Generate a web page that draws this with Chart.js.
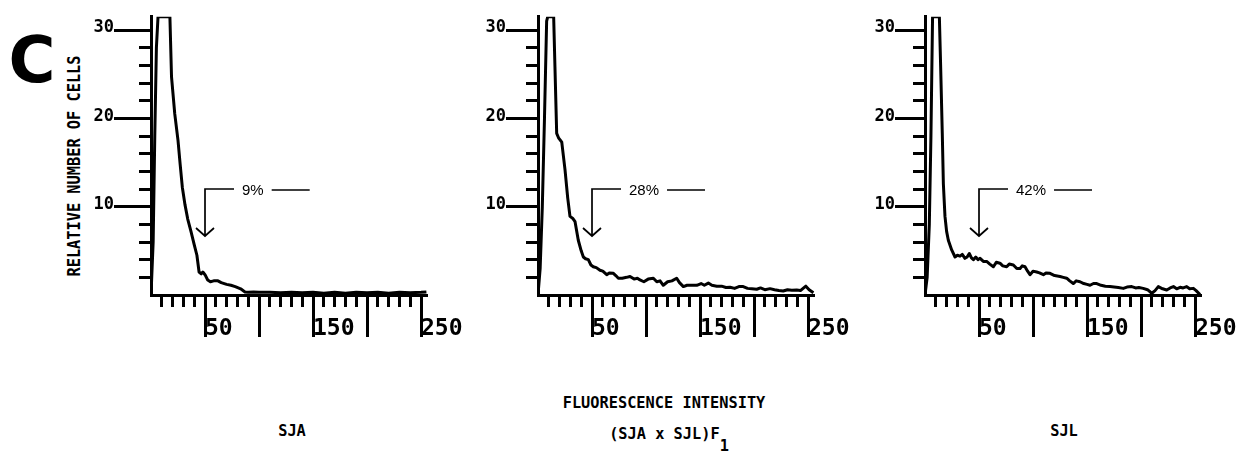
<!DOCTYPE html>
<html>
<head>
<meta charset="utf-8">
<script src="https://cdn.jsdelivr.net/npm/chart.js@4.4.1/dist/chart.umd.min.js"></script>
<style>
  html, body { margin: 0; padding: 0; background: #fff; overflow: hidden; }
  body { width: 1240px; height: 457px; position: relative; color: #000; }
  canvas { position: absolute; top: 0; }
  .lbl {
    position: absolute;
    font-family: "DejaVu Sans Mono", monospace;
    font-weight: bold;
    font-size: 15.3px;
    white-space: nowrap;
    transform: translate(-50%, -50%);
  }
  #letter {
    position: absolute; left: 32px; top: 60px;
    font-family: "DejaVu Sans", sans-serif; font-weight: bold; font-size: 64px;
    transform: translate(-50%, -50%);
  }
  #ytitle { left: 73.5px; top: 166px; transform: translate(-50%, -50%) rotate(-90deg) scaleY(1.15); }
  .sub { position: relative; top: 12px; }
</style>
</head>
<body>
<div id="letter">C</div>
<div class="lbl" id="ytitle">RELATIVE NUMBER OF CELLS</div>

<canvas id="sja" width="466" height="345" style="left:0px"></canvas>
<canvas id="hybrid" width="466" height="345" style="left:387px"></canvas>
<canvas id="sjl" width="466" height="345" style="left:774px"></canvas>

<div class="lbl" style="left:664px; top:403px">FLUORESCENCE INTENSITY</div>
<div class="lbl" style="left:292px; top:431px">SJA</div>
<div class="lbl" style="left:669px; top:434px">(SJA x SJL)F<span class="sub">1</span></div>
<div class="lbl" style="left:1064px; top:431px">SJL</div>

<script>
// data (fluorescence intensity vs relative cell number)
const sjaX = [0, 2, 3.5, 5, 6.5, 17.5, 19, 22, 25, 27, 29, 31.5, 34, 37, 40, 42.5, 44.5, 46.5, 48, 50, 52.5, 55, 58, 62, 65, 70, 74, 78, 83, 87, 90, 95, 100, 110, 120, 130, 140, 150, 160, 170, 180, 190, 200, 210, 220, 230, 240, 250, 255];
const sjaY = [0, 6, 18, 28, 31.5, 31.5, 24.7, 20.5, 17.5, 14.8, 12.2, 10.2, 8.6, 7.2, 5.7, 4.5, 2.6, 2.4, 2.6, 2.3, 1.7, 1.5, 1.6, 1.6, 1.4, 1.2, 1.1, 0.95, 0.7, 0.35, 0.3, 0.35, 0.3, 0.3, 0.25, 0.3, 0.25, 0.3, 0.2, 0.3, 0.2, 0.3, 0.25, 0.3, 0.2, 0.3, 0.25, 0.3, 0.35];

const hybX = [0, 2, 4, 6, 8, 9, 14.5, 15.7, 17.3, 19, 22, 25, 27.5, 29.6, 32, 34.3, 37.3, 40, 42, 44, 46.6, 49, 51.2, 54, 57.4, 60, 63.6, 66, 69.8, 72, 74.4, 78, 82, 85.2, 89, 92, 94.4, 98, 102, 106.8, 110, 113, 116, 120, 124, 128.4, 131, 134.6, 138, 142, 147, 151, 154, 157.7, 161, 165.5, 170, 174, 177.8, 182, 186, 190, 194, 198, 202.5, 206, 210, 214.8, 219, 223, 227, 231, 235, 239.5, 243, 246, 248, 251, 255];
const hybY = [0, 3, 10, 20, 31, 31.5, 31.5, 25.8, 18.3, 17.8, 17.3, 14.2, 11, 8.9, 8.7, 8.3, 6.2, 5, 4.3, 4.1, 4.0, 3.4, 3.2, 3.1, 2.8, 2.7, 2.3, 2.5, 2.45, 2.2, 1.9, 1.9, 2.0, 2.1, 1.8, 1.9, 1.7, 1.5, 1.8, 1.9, 1.5, 1.6, 1.1, 1.5, 1.6, 1.9, 1.4, 0.95, 1.1, 1.1, 1.1, 1.3, 1.1, 1.35, 1.1, 1.0, 1.0, 0.85, 0.87, 0.75, 0.95, 0.95, 0.75, 0.7, 0.65, 0.8, 0.6, 0.72, 0.6, 0.5, 0.45, 0.6, 0.55, 0.57, 0.5, 0.8, 1.0, 0.6, 0.25];

const sjlX = [0, 2, 4, 5.5, 7, 13.3, 14.5, 16, 17, 18.5, 20, 21.6, 24.7, 27.8, 30, 32.4, 34.5, 37, 39, 41, 43, 44.8, 47, 49, 51, 54, 57.1, 60, 63.3, 66, 69.4, 72, 75.6, 78, 81.8, 85, 88, 90, 92.6, 95, 97.2, 100, 103.4, 106, 109.6, 112, 115.7, 120, 125, 128, 131.2, 134, 137.3, 140, 143.5, 147, 150, 152.8, 156, 159, 163, 167, 171.3, 175, 179, 183.6, 187, 191.4, 195, 198, 202, 206, 210, 213, 216, 220, 223.8, 227, 230, 233, 236.2, 239, 242.3, 245, 248.5, 251, 254.6];
const sjlY = [0, 2, 8, 18, 31.5, 31.5, 25.8, 18.3, 12.6, 8.9, 7.2, 6.2, 5.1, 4.3, 4.5, 4.4, 4.6, 4.15, 4.3, 4.7, 4.2, 4.0, 4.3, 4.0, 4.15, 3.8, 3.8, 3.5, 3.2, 3.7, 3.6, 3.3, 3.2, 3.5, 3.4, 3.0, 3.0, 3.3, 3.2, 2.7, 2.3, 2.7, 2.6, 2.5, 2.3, 2.5, 2.45, 2.2, 2.1, 2.0, 1.9, 1.6, 1.3, 1.6, 1.5, 1.3, 1.2, 1.1, 1.3, 1.3, 1.1, 1.0, 0.95, 0.9, 0.85, 0.75, 0.9, 0.95, 0.8, 0.85, 0.75, 0.6, 0.2, 0.5, 0.95, 0.7, 0.57, 0.8, 0.95, 0.7, 0.87, 0.8, 0.95, 0.7, 0.75, 0.5, 0.05];

const yTicks = [2, 4, 6, 8, 10, 12, 14, 16, 18, 20, 22, 24, 26, 28, 30];
const yLabels = [10, 20, 30];
const xTicks = [10, 20, 30, 40, 50, 60, 70, 80, 90, 100, 110, 120, 130, 140, 150, 160, 170, 180, 190, 200, 210, 220, 230, 240, 250];
const xMajor = [50, 100, 150, 200, 250];
const xLabels = [50, 150, 250];
const gateValue = 50;
const gateLevel = 12;
const percents = ['9%', '28%', '42%'];

// gate marker: bracket + arrow at the gate value, with percentage text
const gateMarker = {
  id: 'gateMarker',
  afterDatasetsDraw(chart, args, opts) {
    const ctx = chart.ctx;
    const x = chart.scales.x, y = chart.scales.y;
    const px = x.getPixelForValue(gateValue);
    const top = y.getPixelForValue(gateLevel);
    const tip = top + 47;
    ctx.save();
    ctx.strokeStyle = '#000';
    ctx.lineWidth = 1.7;
    ctx.beginPath();
    ctx.moveTo(px + 29, top);
    ctx.lineTo(px, top);
    ctx.lineTo(px, tip);
    ctx.moveTo(px - 9, tip - 8);
    ctx.lineTo(px, tip);
    ctx.lineTo(px + 9, tip - 8);
    ctx.stroke();
    ctx.font = '15px "Liberation Sans"';
    ctx.fillStyle = '#000';
    ctx.textBaseline = 'middle';
    const tx = px + 37;
    ctx.fillText(opts.text, tx, top + 2);
    const w = ctx.measureText(opts.text).width;
    ctx.beginPath();
    ctx.moveTo(tx + w + 8, top + 1);
    ctx.lineTo(tx + w + 46, top + 1);
    ctx.stroke();
    ctx.restore();
  }
};

function makeChart(id, xs, ys, pct, yTickLen) {
  return new Chart(document.getElementById(id), {
    type: 'line',
    data: {
      datasets: [{
        data: xs.map((v, i) => ({ x: v, y: ys[i] })),
        borderColor: '#000',
        borderWidth: 3,
        borderJoinStyle: 'round',
        pointRadius: 0,
        tension: 0,
        fill: false
      }]
    },
    options: {
      responsive: false,
      animation: false,
      events: [],
      layout: { padding: { top: 16.75, right: 38.5, left: 0, bottom: 0 } },
      plugins: {
        legend: { display: false },
        tooltip: { enabled: false },
        gateMarker: { text: pct }
      },
      scales: {
        x: {
          type: 'linear',
          min: 0,
          max: 256,
          afterBuildTicks: (s) => { s.ticks = xTicks.map(v => ({ value: v })); },
          afterFit: (s) => { s.height = 50; },
          border: { display: true, color: '#000', width: 3 },
          grid: {
            drawOnChartArea: false,
            drawTicks: true,
            tickLength: 42,
            tickColor: '#000',
            tickWidth: 3,
            tickBorderDash: (c) => xMajor.includes(c.tick && c.tick.value) ? [] : [10, 200]
          },
          ticks: {
            autoSkip: false,
            maxRotation: 0,
            minRotation: 0,
            align: 'start',
            padding: -22,
            color: '#000',
            font: { family: 'DejaVu Sans Mono', size: 23, weight: 'bold' },
            callback: (v) => xLabels.includes(v) ? String(v) : ''
          }
        },
        y: {
          type: 'linear',
          min: 0,
          max: 31.5,
          afterBuildTicks: (s) => { s.ticks = yTicks.map(v => ({ value: v })); },
          afterFit: (s) => { s.width = 151; },
          border: { display: true, color: '#000', width: 3 },
          grid: {
            drawOnChartArea: false,
            drawTicks: true,
            tickLength: yTickLen,
            tickColor: '#000',
            tickWidth: 3,
            tickBorderDash: (c) => yLabels.includes(c.tick && c.tick.value) ? [] : [0, yTickLen - 12, 12, 300]
          },
          ticks: {
            padding: 0,
            color: '#000',
            font: { family: 'DejaVu Sans Mono', size: 17, weight: 'bold', lineHeight: '4px' },
            callback: (v) => yLabels.includes(v) ? [String(v), ''] : ''
          }
        }
      }
    },
    plugins: [gateMarker]
  });
}

var sjaChart = makeChart('sja', sjaX, sjaY, percents[0], 37);
var hybridChart = makeChart('hybrid', hybX, hybY, percents[1], 32);
var sjlChart = makeChart('sjl', sjlX, sjlY, percents[2], 30);
</script>
</body>
</html>
